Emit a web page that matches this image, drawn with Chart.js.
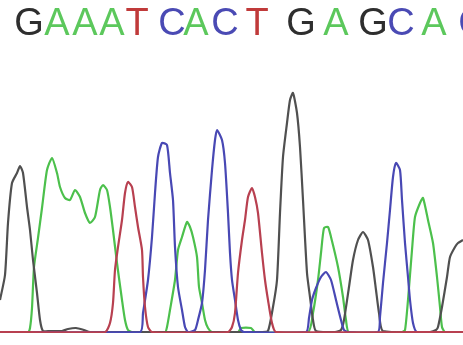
<!DOCTYPE html>
<html>
<head>
<meta charset="utf-8">
<script src="https://cdn.jsdelivr.net/npm/chart.js@4/dist/chart.umd.min.js"></script>
<style>
  html, body { margin: 0; padding: 0; background: #ffffff; }
  #wrap { width: 463px; height: 345px; position: relative; }
</style>
</head>
<body>
<div id="wrap"><canvas id="trace"></canvas></div>
<script>
// Base calls printed above the trace, and where each call sits along the run
const baseCalls = ['G','A','A','A','T','C','A','C','T','G','A','G','C','A','C'];
const callPositions = [29, 57, 85, 112, 137, 172, 196, 225, 257, 301, 336, 373, 401, 434, 472];

// Signal intensity per channel (scan position, intensity)
const gScan = [0, 5, 8, 12, 17, 20, 23, 27, 30, 33, 37, 40, 43, 50, 62, 68, 76, 84, 90, 150, 230, 262, 268, 273, 277, 280, 283, 287, 290, 293, 297, 300, 303, 307, 310, 313, 316, 335, 341, 344, 349, 353, 358, 363, 368, 373, 376, 379, 383, 430, 436, 438, 442, 447, 450, 455, 458, 463];
const gSignal = [33, 58, 110, 150, 160, 167, 160, 126, 103, 73, 40, 13, 2, 2, 2, 4, 5, 3, 1, 1, 1, 1, 2, 26, 53, 120, 176, 210, 233, 240, 220, 186, 133, 60, 36, 13, 2, 1, 3, 13, 46, 73, 93, 101, 93, 66, 43, 20, 2, 1, 3, 6, 26, 56, 76, 86, 90, 93];

const aScan = [0, 28, 30, 32, 34, 38, 42, 47, 52, 57, 60, 65, 70, 75, 80, 85, 90, 95, 100, 103, 107, 110, 113, 117, 122, 125, 128, 132, 165, 167, 170, 175, 178, 182, 187, 190, 193, 197, 199, 202, 205, 208, 212, 238, 241, 251, 255, 308, 313, 318, 321, 324, 328, 331, 338, 343, 346, 349, 402, 405, 408, 412, 415, 420, 423, 428, 433, 437, 440, 442, 445, 463];
const aSignal = [1, 1, 5, 25, 66, 95, 125, 163, 175, 160, 146, 135, 133, 143, 136, 120, 110, 116, 143, 148, 143, 126, 103, 70, 33, 13, 3, 1, 1, 6, 23, 53, 83, 96, 111, 106, 96, 76, 46, 30, 13, 5, 1, 1, 5, 5, 1, 1, 20, 53, 80, 105, 106, 96, 66, 36, 13, 1, 1, 3, 33, 83, 116, 130, 135, 113, 90, 56, 26, 6, 1, 1];

const tScan = [0, 105, 110, 113, 115, 118, 122, 125, 128, 132, 135, 138, 142, 143, 145, 148, 152, 228, 232, 235, 238, 242, 245, 248, 252, 255, 258, 262, 265, 268, 272, 276, 463];
const tSignal = [1, 1, 10, 30, 63, 86, 113, 140, 151, 146, 126, 106, 83, 56, 26, 6, 1, 1, 6, 20, 60, 93, 113, 136, 145, 136, 120, 80, 53, 33, 10, 1, 1];

const cScan = [0, 140, 143, 148, 152, 155, 158, 162, 167, 170, 173, 175, 178, 182, 185, 188, 195, 198, 202, 205, 208, 212, 215, 217, 222, 225, 228, 230, 232, 235, 238, 241, 244, 306, 309, 312, 316, 321, 326, 331, 336, 341, 344, 348, 378, 380, 383, 387, 390, 393, 396, 400, 402, 405, 408, 410, 413, 417, 463];
const cSignal = [1, 1, 20, 53, 96, 140, 176, 190, 188, 160, 133, 86, 46, 23, 6, 1, 3, 13, 30, 63, 113, 163, 193, 203, 193, 170, 120, 80, 53, 33, 13, 3, 1, 1, 15, 33, 45, 56, 61, 53, 33, 13, 3, 1, 1, 16, 50, 90, 123, 156, 170, 163, 133, 90, 56, 33, 10, 1, 1];

const baseColors = { G: '#2e2e2e', A: '#5cc85c', T: '#c03a3a', C: '#4a4ab4' };

function channel(label, xs, ys, color) {
  return {
    label: label,
    data: xs.map((x, i) => ({ x: x, y: ys[i] })),
    borderColor: color,
    borderWidth: 2.2,
    pointRadius: 0,
    tension: 0.2,
    fill: false
  };
}

new Chart(document.getElementById('trace'), {
  type: 'line',
  data: {
    // earlier datasets are painted on top
    datasets: [
      channel('T', tScan, tSignal, '#b84050'),
      channel('C', cScan, cSignal, '#4848b4'),
      channel('G', gScan, gSignal, '#505050'),
      channel('A', aScan, aSignal, '#4cc04c')
    ]
  },
  options: {
    responsive: true,
    maintainAspectRatio: false,
    animation: false,
    layout: { padding: { left: 0, right: 0, top: 0, bottom: 12 } },
    plugins: { legend: { display: false }, tooltip: { enabled: false } },
    scales: {
      x: { type: 'linear', min: 0, max: 463, display: false },
      calls: {
        type: 'linear',
        position: 'top',
        min: 0,
        max: 463,
        grid: { display: false, drawTicks: false },
        border: { display: false },
        afterBuildTicks: (scale) => {
          scale.ticks = callPositions.map(v => ({ value: v }));
        },
        afterFit: (scale) => {
          // the call row runs off the right edge, so keep the plot full width
          scale.height = 60;
          scale.paddingLeft = 0;
          scale.paddingRight = 0;
        },
        ticks: {
          autoSkip: false,
          maxRotation: 0,
          padding: 13,
          font: { family: 'Liberation Sans', size: 38 },
          color: (ctx) => baseColors[baseCalls[ctx.index]],
          callback: (value, index) => baseCalls[index]
        }
      },
      y: { min: 0, max: 273, display: false }
    }
  }
});
</script>
</body>
</html>
